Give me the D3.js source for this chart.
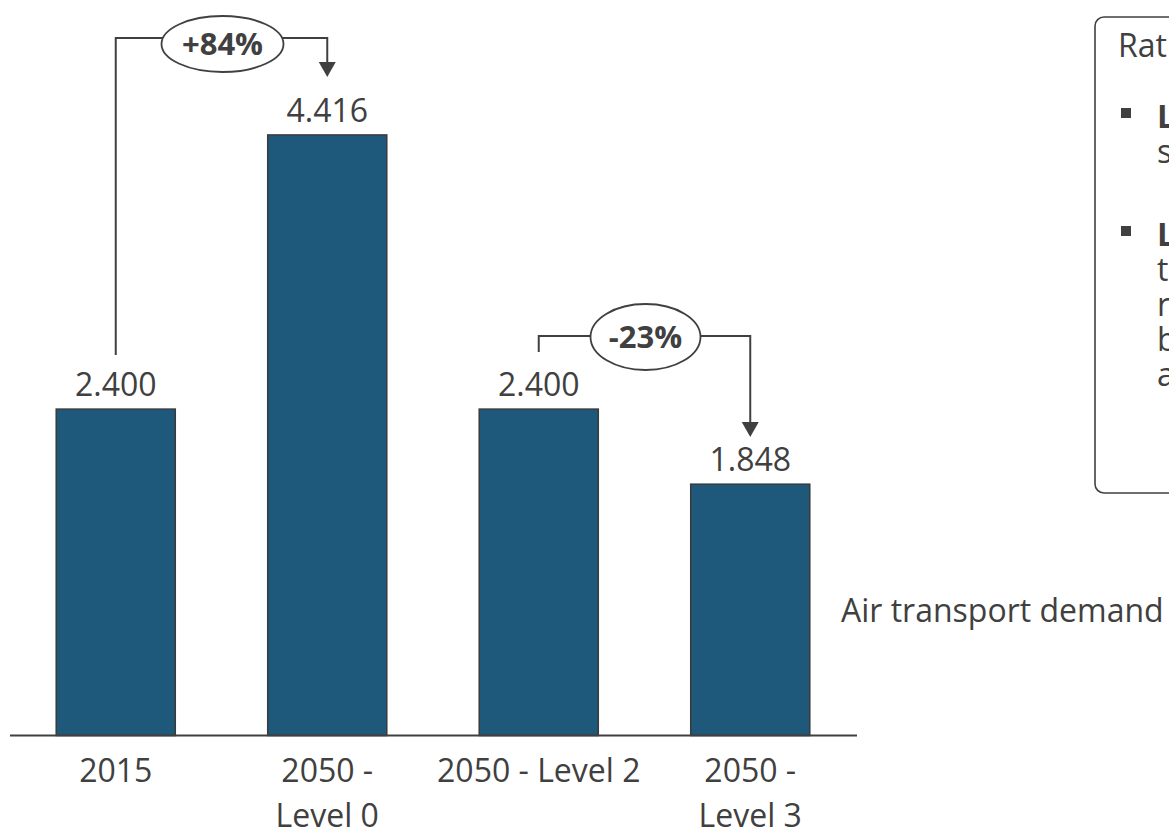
<!DOCTYPE html>
<html>
<head>
<meta charset="utf-8">
<script src="https://cdn.jsdelivr.net/npm/d3@7"></script>
<style>
  html, body { margin: 0; padding: 0; background: #fff; overflow: hidden; }
  svg { display: block; font-family: "Open Sans", "DejaVu Sans", sans-serif; }
</style>
</head>
<body>
<svg id="chart" width="1169" height="832"></svg>
<script>
// Air transport demand scenarios
const categories = ["2015", "2050 - Level 0", "2050 - Level 2", "2050 - Level 3"];
const tickLines = [["2015"], ["2050 -", "Level 0"], ["2050 - Level 2"], ["2050 -", "Level 3"]];
const demand = [2.400, 4.416, 2.400, 1.848];
const valueLabels = ["2.400", "4.416", "2.400", "1.848"];

// change annotations between bars
const changeFrom = [0, 2];
const changeTo = [1, 3];
const changeLabels = ["+84%", "-23%"];

const seriesName = "Air transport demand";
const noteTitle = "Rationale";
const noteItems = [
  { head: "Level 2:", lines: ["Level 2: demand", "stabilised at 2015 level"] },
  { head: "Level 3:", lines: ["Level 3: demand", "targets a", "reduction of 23%", "below 2015 levels", "as shift occurs"] }
];

const ink = "#404040";
const barFill = "#1e587a";

const svg = d3.select("#chart");

const axisY = 735.5;
const x = d3.scaleBand()
  .domain(categories)
  .range([10, 856])
  .paddingInner(0.437)
  .paddingOuter(0.2185);

const y = d3.scaleLinear().domain([0, 5]).range([axisY, axisY - 5 * 136]);

// bars
svg.append("g").selectAll("rect")
  .data(demand)
  .join("rect")
  .attr("x", (d, i) => x(categories[i]))
  .attr("y", d => y(d))
  .attr("width", x.bandwidth())
  .attr("height", d => y(0) - y(d))
  .attr("fill", barFill)
  .attr("stroke", "#3a3a3a")
  .attr("stroke-width", 1.5);

// value labels
svg.append("g").selectAll("text")
  .data(demand)
  .join("text")
  .attr("x", (d, i) => x(categories[i]) + x.bandwidth() / 2)
  .attr("y", d => y(d) - 13)
  .attr("text-anchor", "middle")
  .attr("font-size", 32)
  .attr("fill", ink)
  .text((d, i) => valueLabels[i]);

// category axis
const axis = svg.append("g")
  .attr("transform", `translate(0,${axisY})`)
  .call(d3.axisBottom(x).tickSize(0).tickPadding(0));
axis.select(".domain").attr("stroke", ink).attr("stroke-width", 2.2)
  .attr("d", "M10,0H857");
axis.selectAll(".tick text").each(function(d) {
  const t = d3.select(this);
  const lines = tickLines[categories.indexOf(d)];
  t.text(null)
    .attr("y", 0)
    .attr("dy", null)
    .attr("font-size", 32)
    .attr("font-family", "'Open Sans', sans-serif")
    .attr("fill", ink);
  lines.forEach((ln, k) => {
    t.append("tspan").attr("x", 0).attr("y", 46 + k * 45).text(ln);
  });
});

// series label
svg.append("text")
  .attr("x", 841).attr("y", 622)
  .attr("font-size", 32).attr("fill", ink)
  .text(seriesName);

// change brackets with arrows
const brackets = [
  { level: 38, leftEnd: 355, tip: 77, cy: 44, rx: 61, ry: 28 },
  { level: 336, leftEnd: 352, tip: 437, cy: 337, rx: 55, ry: 33 }
];
const ann = svg.append("g");
changeLabels.forEach((lab, i) => {
  const b = brackets[i];
  const x0 = x(categories[changeFrom[i]]) + x.bandwidth() / 2;
  const x1 = x(categories[changeTo[i]]) + x.bandwidth() / 2;
  const cx = (x0 + x1) / 2 + 1;
  ann.append("path")
    .attr("d", `M${x0},${b.leftEnd}V${b.level}H${x1}V${b.tip - 14}`)
    .attr("fill", "none").attr("stroke", ink).attr("stroke-width", 2);
  ann.append("path")
    .attr("d", `M${x1 - 8.5},${b.tip - 15}L${x1 + 8.5},${b.tip - 15}L${x1},${b.tip}Z`)
    .attr("fill", ink);
  ann.append("ellipse")
    .attr("cx", cx).attr("cy", b.cy).attr("rx", b.rx).attr("ry", b.ry)
    .attr("fill", "#fff").attr("stroke", ink).attr("stroke-width", 1.8);
  ann.append("text")
    .attr("x", cx).attr("y", b.cy + 11)
    .attr("text-anchor", "middle")
    .attr("font-size", 31).attr("font-weight", 700).attr("fill", ink)
    .text(lab);
});

// rationale box
const note = svg.append("g");
note.append("rect")
  .attr("x", 1095).attr("y", 17).attr("width", 400).attr("height", 476)
  .attr("rx", 9).attr("fill", "#fff").attr("stroke", ink).attr("stroke-width", 1.6);
note.append("text")
  .attr("x", 1118).attr("y", 57)
  .attr("font-size", 32).attr("fill", ink)
  .text(noteTitle);
const itemTop = [128, 246];
noteItems.forEach((item, i) => {
  const base = itemTop[i];
  note.append("rect")
    .attr("x", 1121).attr("y", base - 20).attr("width", 10).attr("height", 10)
    .attr("fill", ink);
  const t = note.append("text").attr("font-size", 32).attr("fill", ink);
  item.lines.forEach((ln, k) => {
    const ts = t.append("tspan").attr("x", 1157).attr("y", base + k * 35);
    if (k === 0) {
      ts.append("tspan").attr("font-weight", 700).text(item.head);
      ts.append("tspan").text(ln.slice(item.head.length));
    } else {
      ts.text(ln);
    }
  });
});
</script>
</body>
</html>
